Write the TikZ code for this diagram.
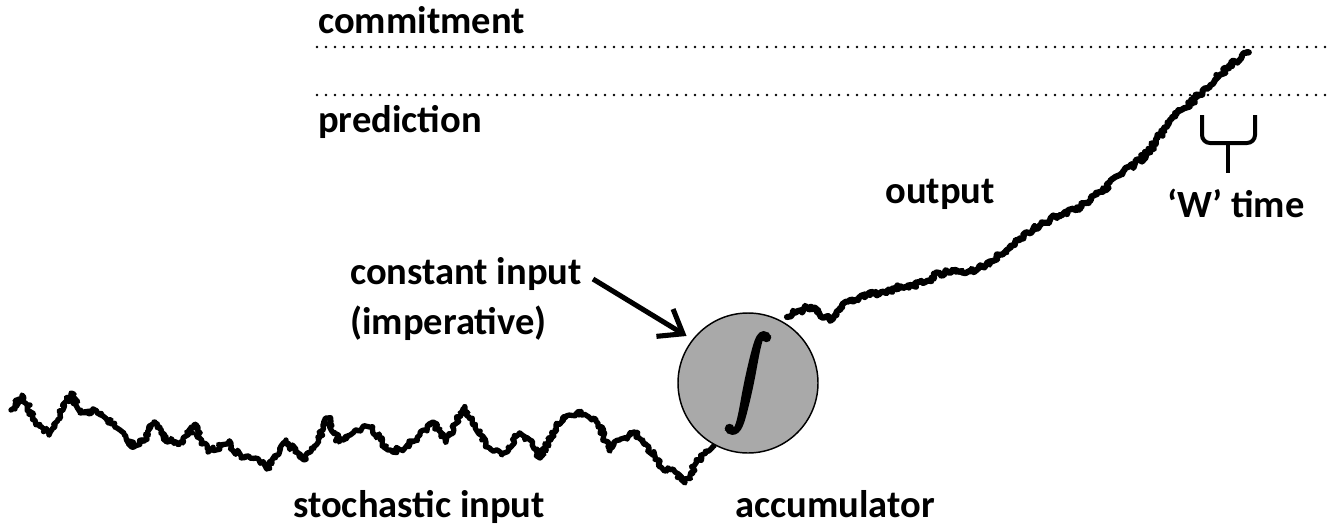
\documentclass[tikz,border=0pt]{standalone}
\usepackage{fontspec}
\setmainfont{Carlito}
\usepackage{graphicx}
\usetikzlibrary{arrows.meta,decorations.pathmorphing}
\definecolor{accgray}{HTML}{A9A9A9}

\begin{document}
\begin{tikzpicture}[x=0.75pt,y=-0.75pt,
    lbl/.style={font=\bfseries\fontsize{28.9}{34}\selectfont,inner sep=0pt},
    walk/.style={line width=4pt,line join=round,line cap=round,
      decorate,decoration={random steps,segment length=1.5pt,amplitude=2pt}},
    dotline/.style={line width=2pt,line cap=round,dash pattern=on 0pt off 6.75pt}]
  \useasboundingbox (0,0) rectangle (1332,525);

  % threshold lines
  \draw[dotline] (317,47) -- (1332,47);
  \draw[dotline] (317,95) -- (1332,95);
  \node[lbl,anchor=base west] (commit) at (318,33) {commitment};
  \node[lbl,anchor=base west] (predict) at (318,132) {prediction};

  % stochastic input
  \pgfmathsetseed{17}
  \draw[walk] (11,410) -- (22,395) -- (35,420) -- (49,435) -- (60,415) -- (71,393)
    -- (80,413) -- (95,410) -- (107,420) -- (120,430) -- (134,447) -- (145,440)
    -- (154,422) -- (165,440) -- (183,443) -- (194,425) -- (208,452) -- (228,443)
    -- (241,458) -- (255,458) -- (268,468) -- (286,440) -- (295,452) -- (304,460)
    -- (318,440) -- (328,418) -- (339,442) -- (355,430) -- (371,427) -- (388,450)
    -- (402,450) -- (420,435) -- (433,422) -- (446,442) -- (464,407) -- (475,425)
    -- (487,447) -- (502,455) -- (518,435) -- (530,440) -- (540,458) -- (555,430)
    -- (563,417) -- (580,412) -- (598,423) -- (609,450) -- (620,440) -- (634,432)
    -- (643,440) -- (661,467) -- (675,472) -- (685,483) -- (696,463) -- (705,452)
    -- (714,446);

  % output
  \draw[walk,line width=4.6pt] (787,317) -- (798,311) -- (810,307) -- (820,314)
    -- (830,320) -- (840,310) -- (850,300) -- (870,295) -- (900,287) -- (923,283)
    -- (940,273) -- (960,272) -- (973,270) -- (990,262) -- (1005,252) -- (1020,240)
    -- (1040,225) -- (1060,215) -- (1075,210) -- (1100,192) -- (1120,175)
    -- (1140,160) -- (1150,150) -- (1170,120) -- (1185,108) -- (1197,97)
    -- (1215,80) -- (1230,65) -- (1247,52);

  % accumulator
  \node[circle,draw,line width=1.1pt,fill=accgray,minimum size=105pt,inner sep=0pt]
    (acc) at (748,383) {\special{pdf:literal direct 2 Tr 1 w}\scalebox{3.5}[3.35]{$\displaystyle\int$}\special{pdf:literal direct 0 Tr}};

  \node[lbl,anchor=base west] (cinput) at (350,284) {constant input};
  \node[lbl,anchor=base west] (imp) at (350,334) {(imperative)};
  \coordinate (cin) at (593,279);
  \draw[line width=3.8pt,-{Straight Barb[length=16pt,width=24pt,line width=3.8pt]},
    shorten >=5pt] (cin) -- (acc.142);

  \node[lbl,anchor=base west] (stoch) at (293,517) {stochastic input};
  \node[lbl,anchor=base west] (acclbl) at (735,517) {accumulator};
  \node[lbl,anchor=base west] (outlbl) at (885,203) {output};

  % W time bracket
  \draw[line width=3pt,rounded corners=6pt] (1202,115) -- (1202,143) -- (1255,143) -- (1255,115);
  \draw[line width=3pt] (1228,143) -- (1228,173);
  \node[lbl,anchor=base west] (wtime) at (1167,217) {‘W’ time};
\end{tikzpicture}
\end{document}
